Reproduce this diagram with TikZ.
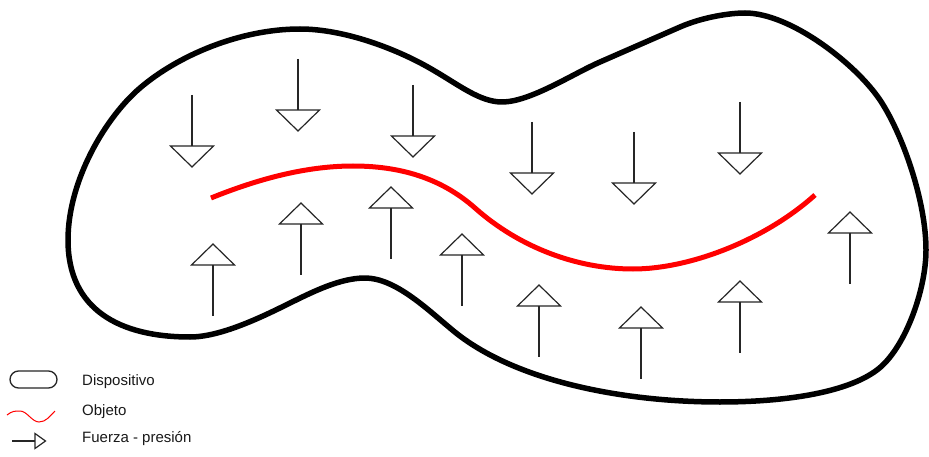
\documentclass[tikz,border=0pt]{standalone}
\usepackage{fontspec}
\setmainfont{Liberation Sans}
\begin{document}
\begin{tikzpicture}[x=1pt,y=-1pt,
  outline/.style={line width=5.5pt, black, line join=round},
  objeto/.style={line width=5pt, red},
  forceline/.style={line width=1.2pt, black!85, line join=miter},
  legendtext/.style={anchor=base west, inner sep=0pt, font=\fontsize{15}{18}\selectfont, text=black!90},
  forcedown/.pic={
    \draw[forceline] (0,0) -- (0,51);
    \draw[forceline] (-21.5,51) -- (21.5,51) -- (0,72) -- cycle;
  },
  forceup/.pic={
    \draw[forceline] (0,0) -- (21.5,21) -- (-21.5,21) -- cycle;
    \draw[forceline] (0,21) -- (0,72);
  }
]
\useasboundingbox (0,0) rectangle (929,457);
\fill[white] (0,0) rectangle (929,457);

% Dispositivo (outline)
\draw[outline] (68,240) .. controls (68,180) and (106,117) .. (140,88)
  .. controls (178,55.5) and (240,29) .. (300,29)
  .. controls (345,29) and (398.6,49.6) .. (433,70)
  .. controls (459,85) and (480,102) .. (502,102)
  .. controls (530,102) and (572.5,74) .. (600,62)
  -- (680,27)
  .. controls (703,17) and (730,13) .. (745,13)
  .. controls (790,13) and (855,63) .. (880,100)
  .. controls (902,133) and (926,200) .. (926,250)
  .. controls (926,290) and (905,349) .. (877,370)
  .. controls (845,394) and (780,402) .. (720,402)
  .. controls (620,402) and (510,380) .. (450,328)
  .. controls (427,309) and (395,278) .. (365,278)
  .. controls (340,278) and (312.5,292) .. (290,303)
  .. controls (260,318) and (220,337) .. (190,337)
  .. controls (120,337) and (68,310) .. (68,240) -- cycle;

% Objeto (red curve)
\draw[objeto] (211,198) .. controls (258,179) and (306,166) .. (353,166)
  .. controls (398,166) and (440,177) .. (475,208)
  .. controls (520,248) and (578,269) .. (633,269)
  .. controls (690,269) and (765,240) .. (815,195);

% Forces from above
\pic (d1) at (192,95)  {forcedown};
\pic (d2) at (298,59)  {forcedown};
\pic (d3) at (413,85)  {forcedown};
\pic (d4) at (532,122) {forcedown};
\pic (d5) at (634,132) {forcedown};
\pic (d6) at (740,102) {forcedown};

% Forces from below
\pic (u1) at (213,244) {forceup};
\pic (u2) at (301,203) {forceup};
\pic (u3) at (391,187) {forceup};
\pic (u4) at (462,234) {forceup};
\pic (u5) at (539,285) {forceup};
\pic (u6) at (641,307) {forceup};
\pic (u7) at (740,281) {forceup};
\pic (u8) at (850,212) {forceup};

% Legend
\draw[line width=1.3pt, black!85, rounded corners=8.5pt] (10,371) rectangle (57,388);
\node[legendtext] (ldisp) at (82,385) {Dispositivo};

\draw[line width=1pt, red] (7,415) .. controls (12,411) and (15,411) .. (20,411)
  .. controls (27,411) and (32,422) .. (39,422)
  .. controls (46,422) and (50,416) .. (55,411);
\node[legendtext] (lobj) at (82,415.7) {Objeto};

\draw[forceline] (12,441) -- (35,441);
\draw[forceline] (35,433.5) -- (45.5,441) -- (35,448.5) -- cycle;
\node[legendtext] (lfuerza) at (82,442.3) {Fuerza - presión};
\end{tikzpicture}
\end{document}
